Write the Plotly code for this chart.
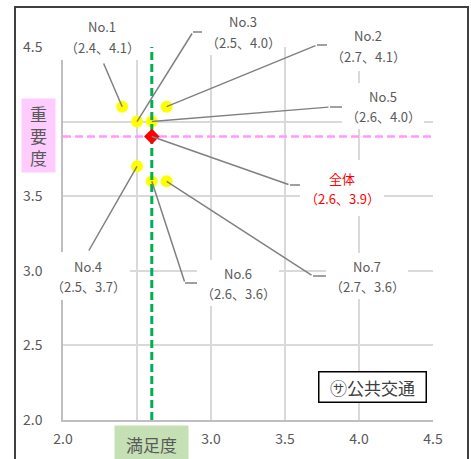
import plotly.graph_objs as go

# data
names = ['No.1', 'No.2', 'No.3', 'No.4', 'No.5', 'No.6', 'No.7']
manzoku = [2.4, 2.7, 2.5, 2.5, 2.6, 2.6, 2.7]
juyo = [4.1, 4.1, 4.0, 3.7, 4.0, 3.6, 3.6]
all_name = '全体'
all_manzoku = 2.6
all_juyo = 3.9
x_ticks = [2.0, 2.5, 3.0, 3.5, 4.0, 4.5]
y_ticks = [2.0, 2.5, 3.0, 3.5, 4.0, 4.5]
x_ticktext = ['2.0', '', '3.0', '3.5', '4.0', '4.5']   # 2.5 sits under the axis title box
y_ticktext = ['2.0', '2.5', '3.0', '3.5', '', '4.5']   # 4.0 sits under the axis title box
category = '㋚公共交通'

# layout in pixels
W, H = 471, 459
L, R, T, B = 63, 38, 47, 39
PW = W - L - R
PH = H - T - B
X0, X1 = 2.0, 4.5
Y0, Y1 = 2.0, 4.5


def dx(px):
    return X0 + (px - L) / PW * (X1 - X0)


def dy(py):
    return Y0 + (T + PH - py) / PH * (Y1 - Y0)


def qx(px):
    return (px - L) / PW


def qy(py):
    return (T + PH - py) / PH


# label centre, box size and leader bends (pixels)
label_pos = {
    'No.1': (102, 37, 84, 46, [(103, 62)]),
    'No.2': (368, 46, 82, 50, [(317, 45), (328, 45)]),
    'No.3': (243, 32, 82, 46, [(193, 32), (203, 32)]),
    'No.4': (88, 276, 84, 48, [(88, 252)]),
    'No.5': (383, 106, 82, 46, [(330, 107), (342, 107)]),
    'No.6': (238, 283, 82, 46, [(185, 283), (197, 283)]),
    'No.7': (367, 276, 82, 46, [(313, 276), (327, 276)]),
    '全体': (342, 188, 84, 56, [(290, 185), (300, 185)]),
}

font = 'Noto Sans CJK JP'
gray = '#595959'
lead = '#808080'

fig = go.Figure()

fig.add_trace(go.Scatter(x=manzoku, y=juyo, mode='markers',
                         marker=dict(color='#ffff00', size=12), hoverinfo='skip'))

# average lines
fig.add_trace(go.Scatter(x=[all_manzoku, all_manzoku], y=[Y0, Y1], mode='lines',
                         line=dict(color='#00b050', width=3, dash='8px,4px')))
fig.add_trace(go.Scatter(x=[X0, X1], y=[all_juyo, all_juyo], mode='lines',
                         line=dict(color='#ff99ff', width=2.5, dash='8px,4px')))

fig.add_trace(go.Scatter(x=[all_manzoku], y=[all_juyo], mode='markers',
                         marker=dict(color='#ff0000', size=12, symbol='diamond')))

pts = list(zip(names, manzoku, juyo)) + [(all_name, all_manzoku, all_juyo)]

annotations = []
shapes = []
for n, xv, yv in pts:
    cx, cy, bw, bh, bends = label_pos[n]
    # leader from the point to the first bend
    annotations.append(dict(x=xv, y=yv, xref='x', yref='y', axref='x', ayref='y',
                            ax=dx(bends[0][0]), ay=dy(bends[0][1]), text='', showarrow=True,
                            arrowhead=0, arrowwidth=1.5, arrowcolor=lead, standoff=0, startstandoff=0))
    for p0, p1 in zip(bends[:-1], bends[1:]):
        shapes.append(dict(type='line', xref='paper', yref='paper', x0=qx(p0[0]), y0=qy(p0[1]),
                           x1=qx(p1[0]), y1=qy(p1[1]), line=dict(color=lead, width=1.5)))
    # white label box
    shapes.append(dict(type='rect', xref='paper', yref='paper', layer='above',
                       x0=qx(cx - bw / 2), x1=qx(cx + bw / 2), y0=qy(cy + bh / 2), y1=qy(cy - bh / 2),
                       fillcolor='white', line=dict(width=0)))
    col = '#ff0000' if n == all_name else gray
    annotations.append(dict(x=qx(cx), y=qy(cy - 10), xref='paper', yref='paper', showarrow=False,
                            xanchor='center', yanchor='middle',
                            text=n, font=dict(family=font, size=13, color=col)))
    annotations.append(dict(x=qx(cx), y=qy(cy + 10), xref='paper', yref='paper', showarrow=False,
                            xanchor='center', yanchor='middle',
                            text=f'（{xv:.1f}、{yv:.1f}）', font=dict(family=font, size=13, color=col)))

# axis titles
annotations.append(dict(x=qx(38.5), y=qy(135.5), xref='paper', yref='paper', showarrow=False,
                        xanchor='center', yanchor='middle',
                        text='重<br>要<br>度', font=dict(family=font, size=17, color=gray),
                        bgcolor='#ffccff', width=33, height=73, borderpad=0))
annotations.append(dict(x=qx(151.5), y=qy(444), xref='paper', yref='paper', showarrow=False,
                        xanchor='center', yanchor='middle',
                        text='満足度', font=dict(family=font, size=17, color=gray),
                        bgcolor='#c5e0b4', width=73, height=36, borderpad=0))
annotations.append(dict(x=qx(372), y=qy(387), xref='paper', yref='paper', showarrow=False,
                        xanchor='center', yanchor='middle',
                        text=category, font=dict(family=font, size=17, color='#404040'),
                        bgcolor='white', bordercolor='black', borderwidth=1.5,
                        width=106, height=29, borderpad=0))

# outer frame
shapes.append(dict(type='rect', xref='paper', yref='paper',
                   x0=qx(15), x1=qx(468), y0=qy(480), y1=qy(7),
                   line=dict(color='#404040', width=2), fillcolor='rgba(0,0,0,0)'))

fig.update_layout(width=W, height=H, margin=dict(l=L, r=R, t=T, b=B),
                  plot_bgcolor='white', paper_bgcolor='white', showlegend=False,
                  annotations=annotations, shapes=shapes)
fig.update_xaxes(range=[X0, X1], tickvals=x_ticks, ticktext=x_ticktext,
                 showgrid=True, gridcolor='#d9d9d9', gridwidth=1.5, zeroline=False,
                 showline=True, linecolor='#bfbfbf', linewidth=1.5,
                 ticks='outside', ticklen=5, tickcolor='rgba(0,0,0,0)',
                 tickfont=dict(family=font, size=14, color=gray))
fig.update_yaxes(range=[Y0, Y1], tickvals=y_ticks, ticktext=y_ticktext,
                 showgrid=True, gridcolor='#d9d9d9', gridwidth=1.5, zeroline=False,
                 showline=True, linecolor='#bfbfbf', linewidth=1.5,
                 ticks='outside', ticklen=16, tickcolor='rgba(0,0,0,0)',
                 tickfont=dict(family=font, size=14, color=gray))

fig.write_html("out.html", config={'displayModeBar': False},
               post_script="document.body.style.margin = '0';")
